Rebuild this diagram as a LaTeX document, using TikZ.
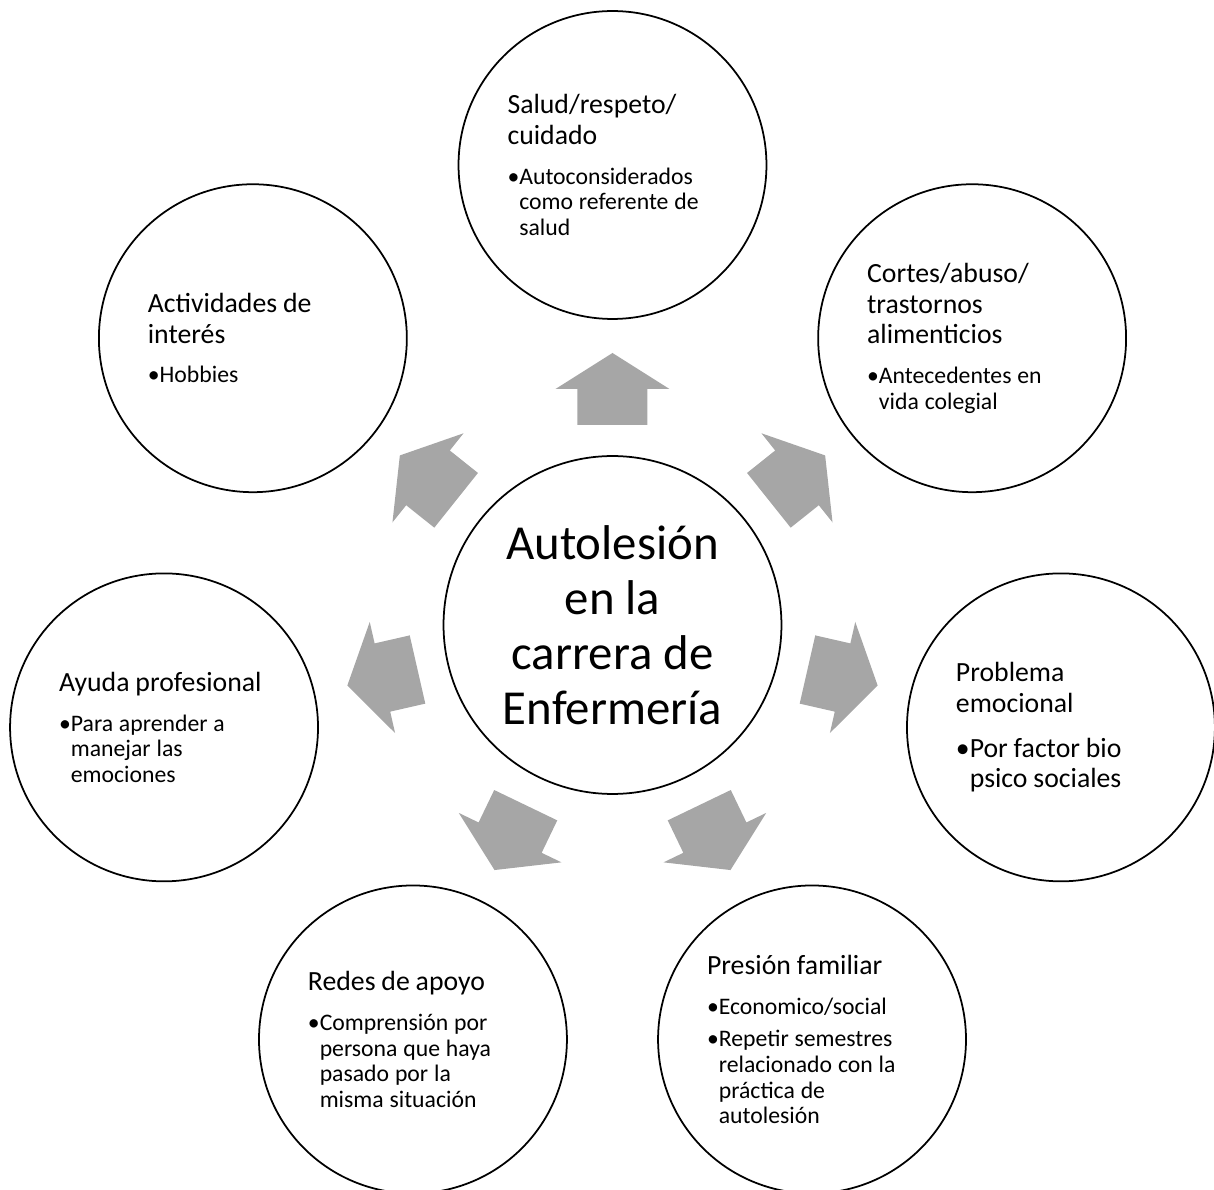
\documentclass[tikz,border=0pt]{standalone}
\usepackage{fontspec}
\setmainfont{Carlito}

\definecolor{spokegray}{RGB}{166,166,166}

% title and bullet lines inside a topic circle
\newcommand{\ctitle}[1]{{\fontsize{15.8pt}{17.4pt}\selectfont\noindent #1\par}}
\newcommand{\citem}[2][8pt]{\vspace{#1}{\fontsize{13.5pt}{14.6pt}\selectfont
	\setbox0=\hbox{\textbullet}\hangindent=\wd0 \hangafter=1 \noindent\textbullet#2\par}}
\newcommand{\citembig}[2][8pt]{\vspace{#1}{\fontsize{15.8pt}{17.4pt}\selectfont
	\setbox0=\hbox{\textbullet}\hangindent=\wd0 \hangafter=1 \noindent\textbullet#2\par}}

\begin{document}
\begin{tikzpicture}[x=0.02cm, y=0.02cm,
	hub/.style={
		% The shape:
		circle,
		% The size:
		minimum size=6.76cm, inner sep=0pt,
		% The border:
		draw=black, line width=1pt,
		% Font
		align=center, font=\fontsize{27.8pt}{31.2pt}\selectfont
		},
	topic/.style={
		% The shape:
		circle,
		% The size:
		minimum size=6.16cm, inner sep=0pt,
		% The border:
		draw=black, line width=1pt,
		% The text block
		text width=4.2cm, align=left
		},
	spoke/.style={fill=spokegray, draw=none}]

	\useasboundingbox (-612.5,-565) rectangle (601.5,625);

	\node (tema) [hub] at (0,0) {Autolesión\\en la\\carrera de\\Enfermería};

	\node (salud) [topic] at (90:460) {\ctitle{Salud/respeto/\newline cuidado}%
		\citem{Autoconsiderados\newline como referente de\newline salud}};
	\node (cortes) [topic] at (38.57:460) {\ctitle{Cortes/abuso/\newline trastornos\newline alimenticios}%
		\citem{Antecedentes en\newline vida colegial}};
	\node (problema) [topic] at (-12.86:460) {\ctitle{Problema\newline emocional}%
		\citembig{Por factor bio\newline psico sociales}};
	\node (presion) [topic] at (-64.29:460) {\ctitle{Presión familiar}%
		\citem{Economico/social}%
		\citem[4pt]{Repetir semestres\newline relacionado con la\newline práctica de\newline autolesión}};
	\node (redes) [topic] at (-115.71:460) {\ctitle{Redes de apoyo}%
		\citem{Comprensión por\newline persona que haya\newline pasado por la\newline misma situación}};
	\node (ayuda) [topic] at (-167.14:460) {\ctitle{Ayuda profesional}%
		\citem{Para aprender a\newline manejar las\newline emociones}};
	\node (actividades) [topic] at (141.43:460) {\ctitle{Actividades de\newline interés}%
		\citem{Hobbies}};

	% block arrows from the hub towards each topic
	\foreach \a in {90,38.57,-12.86,-64.29,-115.71,-167.14,141.43}
		\fill[spoke, rotate=\a] (200,-35) -- (236,-35) -- (236,-57) -- (272,0)
			-- (236,57) -- (236,35) -- (200,35) -- cycle;

\end{tikzpicture}
\end{document}
